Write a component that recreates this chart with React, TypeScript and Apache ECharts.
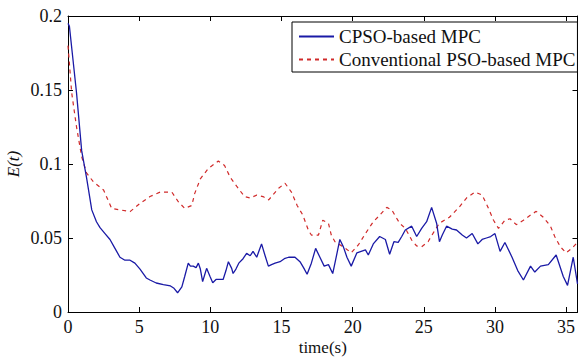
import React, { useEffect, useRef } from "react";
import * as echarts from "echarts";

const cpsoTime = [
  0, 0.1, 0.3, 0.6, 0.96, 1.3, 1.67, 2.0, 2.25, 2.6, 2.95, 3.3, 3.65, 4.0, 4.36, 4.7, 5.06, 5.5, 5.76, 6.2, 6.7, 7.2,
  7.45, 7.7, 8.0, 8.2, 8.45, 8.6, 8.8, 9.0, 9.16, 9.3, 9.46, 9.6, 9.74, 9.98, 10.17, 10.4, 10.68, 10.9, 11.1, 11.27,
  11.5, 11.6, 11.8, 12.0, 12.3, 12.55, 12.8, 13.0, 13.26, 13.45, 13.6, 13.85, 14.08, 14.3, 14.55, 14.9, 15.2, 15.5,
  15.95, 16.3, 16.55, 16.8, 17.1, 17.4, 17.7, 18.0, 18.3, 18.6, 18.8, 19.1, 19.35, 19.6, 19.9, 20.3, 20.6, 20.9, 21.1,
  21.45, 21.9, 22.3, 22.6, 22.9, 23.2, 23.45, 23.7, 24.15, 24.5, 24.85, 25.2, 25.55, 25.9, 26.1, 26.3, 26.6, 27.0,
  27.3, 27.7, 28.0, 28.4, 28.8, 29.1, 29.4, 29.7, 30.0, 30.36, 30.7, 31.2, 31.6, 32.0, 32.5, 32.8, 33.2, 33.75, 34.3,
  34.8, 35.1, 35.5, 35.8,
];
const cpsoE = [
  0.195, 0.193, 0.175, 0.148, 0.109, 0.091, 0.069, 0.061, 0.057, 0.053, 0.049, 0.043, 0.037, 0.035, 0.035, 0.033,
  0.029, 0.023, 0.0216, 0.0196, 0.0185, 0.0176, 0.016, 0.013, 0.017, 0.024, 0.033, 0.031, 0.031, 0.03, 0.033, 0.029,
  0.0205, 0.025, 0.0295, 0.024, 0.0198, 0.022, 0.022, 0.022, 0.028, 0.034, 0.0295, 0.026, 0.029, 0.033, 0.036, 0.0396,
  0.038, 0.041, 0.037, 0.042, 0.046, 0.038, 0.031, 0.032, 0.033, 0.034, 0.036, 0.037, 0.037, 0.034, 0.03, 0.0255,
  0.033, 0.043, 0.037, 0.031, 0.032, 0.026, 0.035, 0.049, 0.044, 0.037, 0.031, 0.04, 0.041, 0.042, 0.0385, 0.046,
  0.051, 0.049, 0.039, 0.0475, 0.047, 0.051, 0.0554, 0.058, 0.051, 0.0565, 0.061, 0.0707, 0.06, 0.0475, 0.052, 0.058,
  0.056, 0.0554, 0.052, 0.05, 0.053, 0.046, 0.049, 0.05, 0.051, 0.053, 0.041, 0.047, 0.037, 0.028, 0.0216, 0.031,
  0.027, 0.031, 0.032, 0.0385, 0.024, 0.018, 0.037, 0.019,
];

const psoTime = [
  0, 0.26, 0.6, 0.96, 1.3, 1.78, 2.5, 3.07, 3.65, 4.36, 5.06, 5.76, 6.47, 7.3, 7.75, 8.2, 8.7, 8.9, 9.3, 9.86, 10.56,
  11.0, 11.4, 11.85, 12.4, 12.8, 13.26, 13.7, 14.1, 14.8, 15.25, 15.7, 16.1, 16.5, 16.9, 17.1, 17.6, 17.9, 18.3, 18.5,
  18.76, 19.5, 19.9, 20.4, 20.9, 21.45, 21.8, 22.4, 22.75, 23.3, 23.7, 24.15, 24.5, 24.85, 25.3, 25.7, 26.1, 26.8,
  27.5, 28.0, 28.6, 29.1, 29.5, 29.9, 30.25, 30.7, 31.06, 31.5, 32.0, 32.5, 32.9, 33.4, 33.9, 34.2, 34.6, 35.0, 35.4,
  35.8,
];
const psoE = [
  0.18, 0.148, 0.125, 0.105, 0.094, 0.088, 0.0824, 0.07, 0.069, 0.0678, 0.0734, 0.078, 0.081, 0.081, 0.0745, 0.07,
  0.072, 0.08, 0.09, 0.097, 0.102, 0.099, 0.091, 0.085, 0.078, 0.077, 0.079, 0.078, 0.0757, 0.0836, 0.087, 0.081,
  0.072, 0.0655, 0.055, 0.052, 0.052, 0.062, 0.06, 0.052, 0.0475, 0.043, 0.04, 0.0453, 0.053, 0.061, 0.0644, 0.0707,
  0.069, 0.06, 0.0565, 0.0486, 0.0446, 0.044, 0.0475, 0.054, 0.06, 0.064, 0.071, 0.077, 0.081, 0.079, 0.071, 0.062,
  0.0565, 0.062, 0.063, 0.059, 0.062, 0.0655, 0.068, 0.064, 0.058, 0.051, 0.044, 0.04, 0.043, 0.047,
];

const seriesNames = ["CPSO-based MPC", "Conventional PSO-based MPC"];

const FONT = "Liberation Serif, DejaVu Serif, serif";
const BLUE = "#1a1aa6";
const RED = "#d02a2a";

export default function App() {
  const ref = useRef<HTMLDivElement>(null);
  useEffect(() => {
    if (!ref.current) return;
    const chart = echarts.init(ref.current, null, { renderer: "svg" });
    const axisLine = { show: true, onZero: false, lineStyle: { color: "#000", width: 1 } };
    const tickIn = { show: true, inside: true, length: 5, lineStyle: { color: "#000" } };
    chart.setOption({
      animation: false,
      backgroundColor: "#fff",
      grid: {
        left: 68,
        top: 16,
        width: 509.5,
        height: 296,
        containLabel: false,
        outerBoundsMode: "none",
      },
      legend: {
        orient: "vertical",
        left: 292,
        top: 22,
        padding: [5, 2, 3, 6],
        borderColor: "#000",
        borderWidth: 1,
        backgroundColor: "#fff",
        itemWidth: 35,
        itemHeight: 14,
        itemGap: 4,
        itemStyle: { opacity: 0 },
        data: seriesNames,
        textStyle: { fontFamily: FONT, fontSize: 19, lineHeight: 19, color: "#111" },
      },
      xAxis: [
        {
          type: "value",
          min: 0,
          max: 35.8,
          interval: 5,
          position: "bottom",
          name: "time(s)",
          nameLocation: "middle",
          nameGap: 27,
          nameMoveOverlap: false,
          nameTextStyle: { fontFamily: FONT, fontSize: 17, lineHeight: 17, color: "#111" },
          axisLine,
          axisTick: tickIn,
          axisLabel: {
            fontFamily: FONT,
            fontSize: 18,
            color: "#111",
            margin: 6,
            showMaxLabel: false,
          },
          splitLine: { show: false },
        },
        {
          type: "value",
          min: 0,
          max: 35.8,
          interval: 5,
          position: "top",
          axisLine,
          axisTick: tickIn,
          axisLabel: { show: false },
          splitLine: { show: false },
        },
      ],
      yAxis: [
        {
          type: "value",
          min: 0,
          max: 0.2,
          interval: 0.05,
          position: "left",
          name: "E(t)",
          nameLocation: "middle",
          nameGap: 46,
          nameMoveOverlap: false,
          nameTextStyle: { fontFamily: FONT, fontSize: 17, fontStyle: "italic", color: "#111" },
          axisLine,
          axisTick: tickIn,
          axisLabel: {
            fontFamily: FONT,
            fontSize: 18,
            color: "#111",
            margin: 6,
          },
          splitLine: { show: false },
        },
        {
          type: "value",
          min: 0,
          max: 0.2,
          interval: 0.05,
          position: "right",
          axisLine,
          axisTick: tickIn,
          axisLabel: { show: false },
          splitLine: { show: false },
        },
      ],
      series: [
        {
          name: seriesNames[0],
          type: "line",
          showSymbol: false,
          symbol: "none",
          data: cpsoTime.map((t, i) => [t, cpsoE[i]]),
          lineStyle: { color: BLUE, width: 1.3 },
          itemStyle: { color: BLUE },
          z: 3,
        },
        {
          name: seriesNames[1],
          type: "line",
          showSymbol: false,
          symbol: "none",
          data: psoTime.map((t, i) => [t, psoE[i]]),
          lineStyle: { color: RED, width: 1.2, type: [4, 4] },
          itemStyle: { color: RED },
          z: 2,
        },
      ],
    });
    return () => chart.dispose();
  }, []);
  return (
    <div
      ref={ref}
      style={{ position: "fixed", left: 0, top: 0, width: 579, height: 357, background: "#fff" }}
    />
  );
}
